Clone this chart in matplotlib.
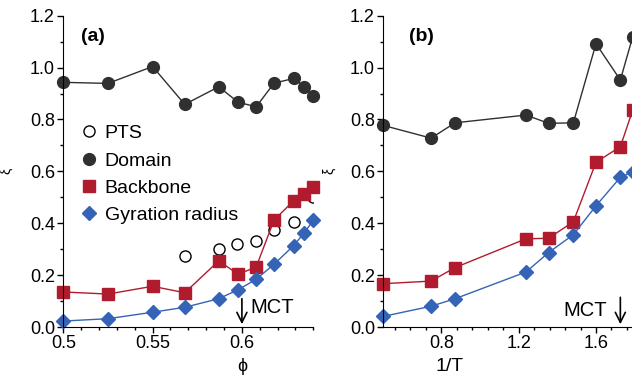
import matplotlib
matplotlib.use("Agg")
import matplotlib.pyplot as plt
from matplotlib.lines import Line2D
from matplotlib.ticker import MultipleLocator, FixedLocator

plt.rcParams['font.family'] = ['Liberation Sans', 'DejaVu Sans']

# panel (a): xi vs packing fraction phi
phi = [0.5, 0.525, 0.55, 0.568, 0.587, 0.598, 0.608, 0.618, 0.629, 0.635, 0.64]
dom_a = [0.943, 0.939, 1.004, 0.858, 0.926, 0.866, 0.849, 0.940, 0.958, 0.926, 0.889]
bb_a = [0.135, 0.127, 0.157, 0.132, 0.255, 0.203, 0.232, 0.412, 0.487, 0.514, 0.540]
gyr_a = [0.023, 0.032, 0.057, 0.076, 0.109, 0.144, 0.184, 0.242, 0.314, 0.364, 0.412]
phi_pts = [0.568, 0.587, 0.597, 0.608, 0.618, 0.629, 0.640]
pts_a = [0.275, 0.302, 0.320, 0.331, 0.373, 0.406, 0.502]

# panel (b): xi vs 1/T
invT = [0.50, 0.747, 0.871, 1.238, 1.355, 1.483, 1.600, 1.726, 1.79]
dom_b = [0.777, 0.728, 0.787, 0.817, 0.785, 0.787, 1.092, 0.952, 1.119]
bb_b = [0.167, 0.177, 0.229, 0.340, 0.342, 0.406, 0.635, 0.695, 0.836]
gyr_b = [0.041, 0.080, 0.109, 0.212, 0.287, 0.356, 0.467, 0.577, 0.598]

mct_a = 0.6
mct_b = 1.726

c_dom = '#303030'
c_bb = '#b01c2e'
c_gyr = '#3563b5'

fig = plt.figure(figsize=(6.32, 3.76), dpi=100)
ax1 = fig.add_axes([0.1002, 0.1303, 0.3956, 0.828])
ax2 = fig.add_axes([0.6065, 0.1303, 0.413, 0.828])


def style(ax):
    for s in ['top', 'right']:
        ax.spines[s].set_visible(False)
    ax.set_ylim(0, 1.2)
    ax.yaxis.set_major_locator(MultipleLocator(0.2))
    ax.yaxis.set_minor_locator(MultipleLocator(0.1))
    ax.set_yticklabels(['%.1f' % v for v in ax.get_yticks()])
    ax.tick_params(which='major', direction='out', length=4, width=1, labelsize=13, pad=2)
    ax.tick_params(which='minor', direction='out', length=2.5, width=1)
    ax.set_ylabel('ξ', fontsize=10)


def series(ax, x, dom, bb, gyr):
    ax.plot(x, dom, '-o', color=c_dom, lw=1, ms=8.5, clip_on=False)
    ax.plot(x, bb, '-s', color=c_bb, lw=1, ms=8, clip_on=False)
    ax.plot(x, gyr, '-D', color=c_gyr, lw=1, ms=7, clip_on=False)


# (a)
style(ax1)
ax1.plot(phi_pts, pts_a, 'o', mfc='white', mec='black', mew=1, ms=8)
series(ax1, phi, dom_a, bb_a, gyr_a)
ax1.set_xlim(0.5, 0.64)
ax1.xaxis.set_major_locator(FixedLocator([0.5, 0.55, 0.6]))
ax1.set_xticklabels(['0.5', '0.55', '0.6'])
ax1.xaxis.set_minor_locator(MultipleLocator(0.01))
ax1.set_xlabel('ϕ', fontsize=13)
ax1.xaxis.set_label_coords(0.716, -0.1)
ax1.yaxis.set_label_coords(-0.2, 0.5)
ax1.text(0.07, 0.92, '(a)', transform=ax1.transAxes, fontsize=14, fontweight='bold')
ax1.annotate('', xy=(mct_a, 0.0), xytext=(mct_a, 0.12),
             arrowprops=dict(arrowstyle='->', lw=1.2, color='black', mutation_scale=18))
ax1.text(mct_a + 0.005, 0.075, 'MCT', fontsize=14.5, va='center')

handles = [
    Line2D([], [], ls='none', marker='o', mfc='white', mec='black', mew=1, ms=8),
    Line2D([], [], ls='none', marker='o', color=c_dom, ms=8.5),
    Line2D([], [], ls='none', marker='s', color=c_bb, ms=8),
    Line2D([], [], ls='none', marker='D', color=c_gyr, ms=7),
]
ax1.legend(handles, ['PTS', 'Domain', 'Backbone', 'Gyration radius'],
           loc='upper left', bbox_to_anchor=(0.065, 0.65), frameon=False,
           fontsize=14, handletextpad=0.3, labelspacing=0.5, handlelength=1.0,
           borderaxespad=0, borderpad=0)

# (b)
style(ax2)
series(ax2, invT, dom_b, bb_b, gyr_b)
ax2.set_xlim(0.5, 1.85)
ax2.xaxis.set_major_locator(FixedLocator([0.8, 1.2, 1.6]))
ax2.set_xticklabels(['0.8', '1.2', '1.6'])
ax2.xaxis.set_minor_locator(FixedLocator([0.56 + 0.08 * i for i in range(16)]))
ax2.set_xlabel('1/T', fontsize=14)
ax2.xaxis.set_label_coords(0.255, -0.1)
ax2.yaxis.set_label_coords(-0.18, 0.5)
ax2.text(0.10, 0.92, '(b)', transform=ax2.transAxes, fontsize=14, fontweight='bold')
ax2.annotate('', xy=(mct_b, 0.0), xytext=(mct_b, 0.125),
             arrowprops=dict(arrowstyle='->', lw=1.2, color='black', mutation_scale=18))
ax2.text(mct_b - 0.07, 0.065, 'MCT', fontsize=14.5, va='center', ha='right')

fig.savefig('out.png', dpi=100)
